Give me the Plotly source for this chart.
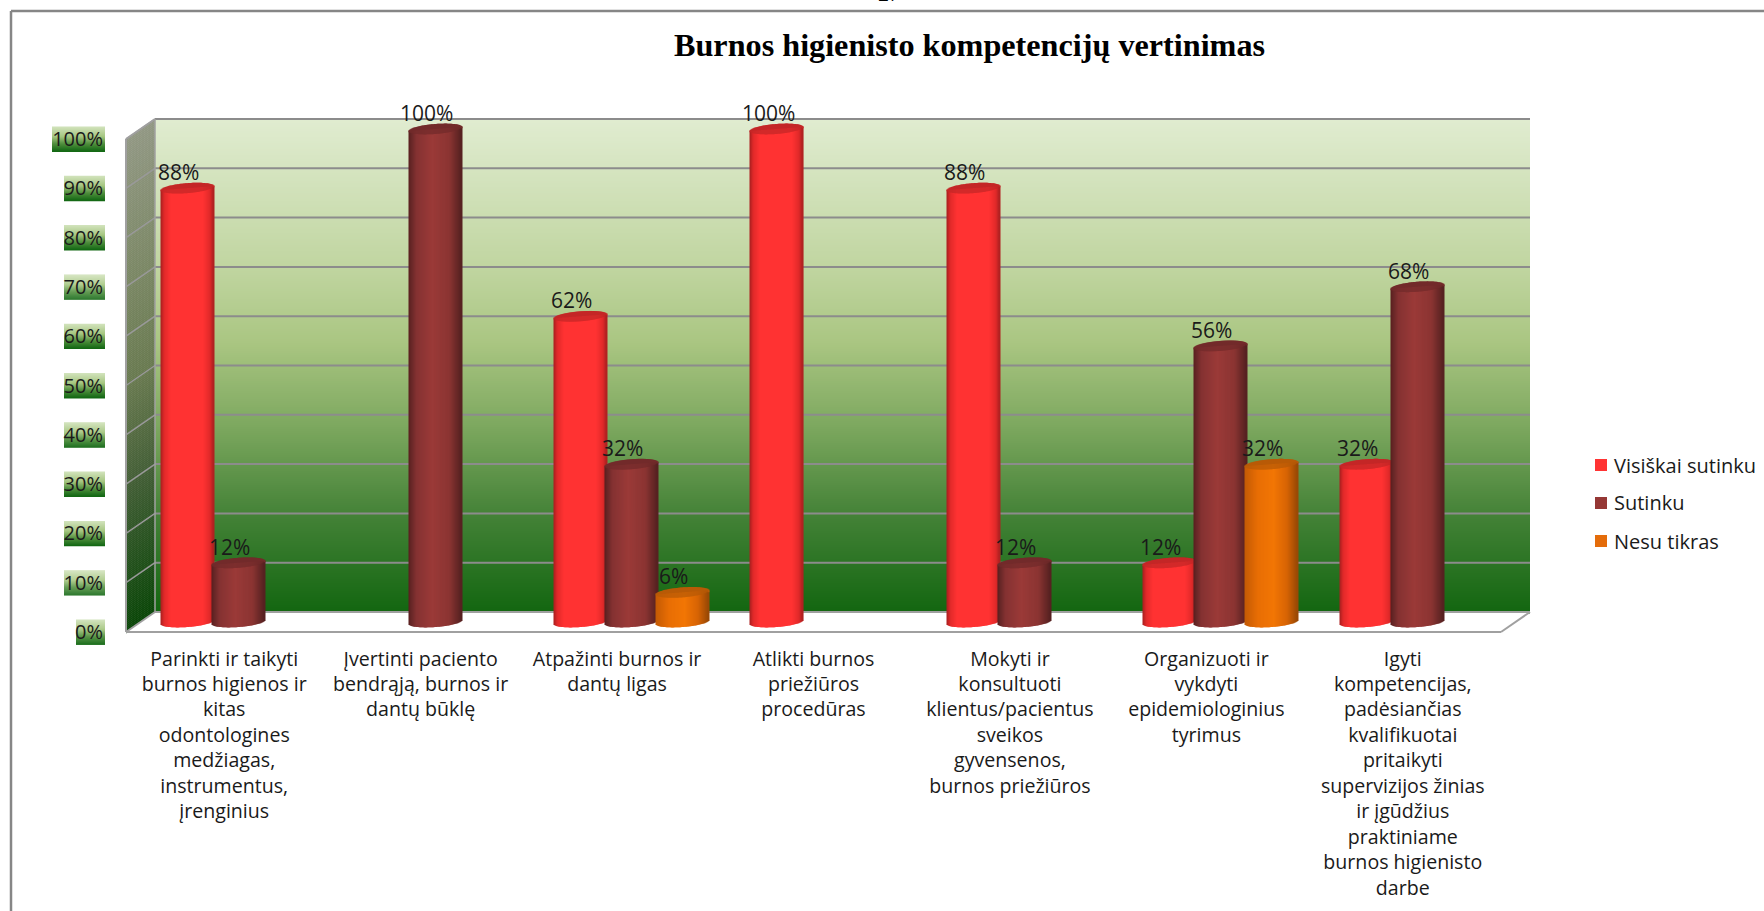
"""3D-look cylinder chart of dental hygienist competency ratings, drawn in Plotly."""

import math

import plotly.graph_objects as go

TITLE = "Burnos higienisto kompetencijų vertinimas"
PAGE_NUMBER = "27"

CATEGORIES = [
    "Parinkti ir taikyti<br>burnos higienos ir<br>kitas<br>odontologines<br>medžiagas,<br>instrumentus,<br>įrenginius",
    "Įvertinti paciento<br>bendrąją, burnos ir<br>dantų būklę",
    "Atpažinti burnos ir<br>dantų ligas",
    "Atlikti burnos<br>priežiūros<br>procedūras",
    "Mokyti ir<br>konsultuoti<br>klientus/pacientus<br>sveikos<br>gyvensenos,<br>burnos priežiūros",
    "Organizuoti ir<br>vykdyti<br>epidemiologinius<br>tyrimus",
    "Igyti<br>kompetencijas,<br>padėsiančias<br>kvalifikuotai<br>pritaikyti<br>supervizijos žinias<br>ir įgūdžius<br>praktiniame<br>burnos higienisto<br>darbe",
]
SERIES_NAMES = ["Visiškai sutinku", "Sutinku", "Nesu tikras"]
VISISKAI_SUTINKU = [88, None, 62, 100, 88, 12, 32]
SUTINKU = [12, 100, 32, None, 12, 56, 68]
NESU_TIKRAS = [None, None, 6, None, None, 32, None]
Y_TICKS = [0, 10, 20, 30, 40, 50, 60, 70, 80, 90, 100]

W, H = 1764, 911
TEXT_FONT = "Open Sans"

# chart box, in screen pixels: front plane and depth offset
FRONT_L, FRONT_R, FRONT_BOTTOM, FRONT_TOP = 126, 1501, 632, 139
DEPTH_X, DEPTH_Y = 29, 20
PX_PER_PCT = (FRONT_BOTTOM - FRONT_TOP) / 100
PX_PER_CAT = (FRONT_R - FRONT_L) / 7

BAR_PX = 53
BAR_STEP_PX = 51
CAP_B_PX = 5.0
CAP_TILT_PX = 2.0
OVERSHOOT = 5  # bars get clipped to their axes, so the hidden axes run a bit past 0 and 100

COLORS = ["#ff3333", "#953735", "#e46c0a"]
CAP_COLORS = ["#c42626", "#722a2a", "#b85a06"]
# (position across the cylinder, rgb)
SHADES = [
    [(-1, (165, 30, 30)), (-0.86, (225, 42, 42)), (-0.6, (255, 50, 50)), (0.6, (255, 50, 50)), (0.86, (225, 42, 42)), (1, (170, 32, 32))],
    [(-1, (88, 32, 32)), (-0.7, (132, 50, 50)), (-0.1, (155, 58, 56)), (0.55, (138, 52, 50)), (1, (84, 32, 32))],
    [(-1, (195, 90, 5)), (-0.5, (232, 110, 5)), (0.1, (242, 118, 5)), (0.6, (215, 100, 5)), (1, (150, 72, 5))],
]
WALL_STOPS = [
    (0.0, (224, 236, 208)),
    (0.3, (192, 213, 160)),
    (0.45, (170, 198, 130)),
    (0.62, (125, 168, 95)),
    (0.8, (68, 130, 55)),
    (1.0, (18, 102, 16)),
]
SIDE_STOPS = [
    (0.0, (146, 152, 132)),
    (0.3, (122, 135, 100)),
    (0.5, (105, 122, 80)),
    (0.7, (68, 95, 55)),
    (1.0, (10, 70, 8)),
]
PLATE_STOPS = [
    (0.0, (208, 226, 186)),
    (0.4, (165, 198, 128)),
    (0.7, (80, 142, 62)),
    (1.0, (20, 105, 20)),
]
GRID = "#8c8c8c"


def blend(stops, t):
    for (t0, c0), (t1, c1) in zip(stops, stops[1:]):
        if t <= t1:
            f = (t - t0) / (t1 - t0)
            rgb = [round(a + (b - a) * f) for a, b in zip(c0, c1)]
            return f"rgb({rgb[0]},{rgb[1]},{rgb[2]})"
    return f"rgb{stops[-1][1]}".replace(" ", "")


def px(x):
    return x / W


def py(y):
    return 1 - y / H


def front_y(value):
    return FRONT_BOTTOM - value * PX_PER_PCT


shapes = []


def paper_rect(x0, y0, x1, y1, color, line=None, width=0):
    shapes.append(dict(type="rect", xref="paper", yref="paper", layer="below",
                       x0=px(x0), x1=px(x1), y0=py(y0), y1=py(y1), fillcolor=color,
                       line=dict(color=line, width=width) if line else dict(width=0)))


def paper_line(x0, y0, x1, y1, color=GRID, width=2):
    shapes.append(dict(type="line", xref="paper", yref="paper", layer="below",
                       x0=px(x0), x1=px(x1), y0=py(y0), y1=py(y1), line=dict(color=color, width=width)))


def paper_poly(points, color):
    path = "M " + " L ".join(f"{px(x):.5f} {py(y):.5f}" for x, y in points) + " Z"
    shapes.append(dict(type="path", xref="paper", yref="paper", layer="below", path=path,
                       fillcolor=color, line=dict(width=0)))


# outer frame, runs off the page on the right and at the bottom
paper_line(11, 11, W, 11, "#868686", 2.5)
paper_line(11, 11, 11, H, "#868686", 2.5)

# back wall and side wall gradients
back_l, back_r = FRONT_L + DEPTH_X, FRONT_R + DEPTH_X
back_top, back_bottom = FRONT_TOP - DEPTH_Y, FRONT_BOTTOM - DEPTH_Y
for y in range(back_top, back_bottom, 2):
    t = (y - back_top) / (back_bottom - back_top)
    paper_rect(back_l, y, back_r, y + 2.5, blend(WALL_STOPS, t))
    paper_poly([(FRONT_L, y + DEPTH_Y), (back_l, y), (back_l, y + 2.5), (FRONT_L, y + DEPTH_Y + 2.5)], blend(SIDE_STOPS, t))

# gridlines across the side wall and the back wall
for tick in Y_TICKS[1:]:
    paper_line(FRONT_L, front_y(tick), back_l, front_y(tick) - DEPTH_Y, "#999999", 1.5)
    paper_line(back_l, front_y(tick) - DEPTH_Y, back_r, front_y(tick) - DEPTH_Y, GRID, 2)

# floor and box edges
paper_poly([(FRONT_L, FRONT_BOTTOM), (back_l, back_bottom), (back_r, back_bottom), (FRONT_R, FRONT_BOTTOM)], "#ffffff")
paper_line(FRONT_L, FRONT_BOTTOM, FRONT_R, FRONT_BOTTOM, "#a0a0a0", 2)
paper_line(FRONT_R, FRONT_BOTTOM, back_r, back_bottom, "#a0a0a0", 2)
paper_line(back_l, back_bottom, back_r, back_bottom, "#a0a0a0", 2)
paper_line(FRONT_L, FRONT_BOTTOM, back_l, back_bottom, "#a0a0a0", 2)
paper_line(FRONT_L, FRONT_BOTTOM, FRONT_L, FRONT_TOP, "#a0a0a0", 2)
paper_line(FRONT_L, FRONT_TOP, back_l, back_top, "#a0a0a0", 2)
paper_line(back_l, back_top, back_r, back_top, GRID, 2)
paper_line(back_l, back_top, back_l, back_bottom, "#a0a0a0", 1.5)

# green gradient plates behind the y tick labels
for tick in Y_TICKS:
    plate_w = 53 if tick == 100 else 29 if tick == 0 else 41
    top = front_y(tick) - 12.5
    for i in range(25):
        paper_rect(105 - plate_w, top + i, 105, top + i + 1.4, blend(PLATE_STOPS, i / 24))

fig = go.Figure()

# carries the front-plane axes: category labels and percent ticks
fig.add_trace(go.Scatter(x=list(range(len(CATEGORIES))), y=VISISKAI_SUTINKU, mode="markers",
                         marker=dict(opacity=0), showlegend=False, hoverinfo="skip"))

# each cylinder is a run of 1px bars on the mid-depth axes
n_strips = BAR_PX
strip_w = (BAR_PX / PX_PER_CAT) / n_strips
cap_b = CAP_B_PX / PX_PER_PCT
tilt = CAP_TILT_PX / PX_PER_PCT
all_series = [VISISKAI_SUTINKU, SUTINKU, NESU_TIKRAS]
for s, values in enumerate(all_series):
    bar_x, bar_y, bar_base, bar_color = [], [], [], []
    offset = (s - 1) * BAR_STEP_PX / PX_PER_CAT
    for cat, value in enumerate(values):
        if value is None:
            continue
        center = cat + offset
        for k in range(n_strips):
            u = (k + 0.5) / n_strips * 2 - 1
            arc = math.sqrt(1 - u * u)
            x_k = center + u * (BAR_PX / PX_PER_CAT) / 2
            base = tilt * u - cap_b * arc
            top_low = value + tilt * u - cap_b * arc
            top_high = value + tilt * u + cap_b * arc
            bar_x.append(x_k)
            bar_base.append(base)
            bar_y.append(value + tilt * u - base)
            bar_color.append(blend(SHADES[s], u))
            bar_x.append(x_k)
            bar_base.append(top_low)
            bar_y.append(top_high - top_low)
            bar_color.append(CAP_COLORS[s])
    fig.add_trace(go.Bar(x=bar_x, y=bar_y, base=bar_base, width=strip_w * 1.15,
                         marker=dict(color=bar_color, line=dict(width=0)), xaxis="x2", yaxis="y2",
                         name=SERIES_NAMES[s], showlegend=False, hoverinfo="skip"))

# value labels sit up and to the left of each cylinder top
annotations = []
for s, values in enumerate(all_series):
    offset = (s - 1) * BAR_STEP_PX / PX_PER_CAT
    for cat, value in enumerate(values):
        if value is None:
            continue
        annotations.append(dict(x=cat + offset, y=value, xref="x2", yref="y2", text=f"{value}%",
                                showarrow=False, xshift=-9, yshift=16,
                                font=dict(family=TEXT_FONT, size=21, color="#1a1a1a")))

# legend drawn by hand: the native one cannot get this tight swatch gap and row spacing
for s, name in enumerate(SERIES_NAMES):
    row_y = 465 + 38 * s
    paper_rect(1595, row_y - 6, 1607, row_y + 6, COLORS[s])
    annotations.append(dict(x=px(1612), y=py(row_y), xref="paper", yref="paper", text=name, yanchor="middle",
                            showarrow=False, xanchor="left", font=dict(family=TEXT_FONT, size=20, color="#1a1a1a")))

annotations.append(dict(x=px(969), y=py(45), xref="paper", yref="paper", text=f"<b>{TITLE}</b>", showarrow=False,
                        yanchor="middle", font=dict(family="Liberation Serif", size=32.2, color="#000000")))
annotations.append(dict(x=px(889), y=py(-6), xref="paper", yref="paper", text=PAGE_NUMBER, showarrow=False,
                        yanchor="middle", font=dict(family="Liberation Serif", size=22, color="#000000")))

fig.update_layout(
    width=W,
    height=H,
    margin=dict(l=0, r=0, t=0, b=0),
    paper_bgcolor="#ffffff",
    plot_bgcolor="rgba(0,0,0,0)",
    barmode="overlay",
    showlegend=False,
    shapes=shapes,
    annotations=annotations,
    xaxis=dict(
        domain=[px(FRONT_L), px(FRONT_R)],
        range=[-0.5, 6.5],
        anchor="y",
        automargin=False,
        tickmode="array",
        tickvals=list(range(len(CATEGORIES))),
        ticktext=CATEGORIES,
        tickangle=0,
        ticks="outside",
        ticklen=9,
        tickcolor="rgba(0,0,0,0)",
        showgrid=False,
        zeroline=False,
        showline=False,
        tickfont=dict(family=TEXT_FONT, size=19.6, color="#1a1a1a"),
    ),
    yaxis=dict(
        domain=[py(FRONT_BOTTOM), py(FRONT_TOP)],
        range=[0, 100],
        anchor="x",
        automargin=False,
        tickmode="array",
        tickvals=Y_TICKS,
        ticktext=[f"{t}%" for t in Y_TICKS],
        ticks="outside",
        ticklen=18,
        tickcolor="rgba(0,0,0,0)",
        showgrid=False,
        zeroline=False,
        showline=False,
        tickfont=dict(family=TEXT_FONT, size=20, color="#1a1a1a"),
    ),
    xaxis2=dict(
        domain=[px(FRONT_L + DEPTH_X / 2), px(FRONT_R + DEPTH_X / 2)],
        range=[-0.5, 6.5],
        anchor="y2",
        automargin=False,
        visible=False,
    ),
    yaxis2=dict(
        domain=[
            py(FRONT_BOTTOM - DEPTH_Y / 2 + OVERSHOOT * PX_PER_PCT),
            py(FRONT_TOP - DEPTH_Y / 2 - OVERSHOOT * PX_PER_PCT),
        ],
        range=[-OVERSHOOT, 100 + OVERSHOOT],
        anchor="x2",
        automargin=False,
        visible=False,
    ),
)

fig.write_html(
    "out.html",
    config=dict(displayModeBar=False),
    post_script="document.body.style.margin='0';document.body.style.overflow='hidden';",
)
